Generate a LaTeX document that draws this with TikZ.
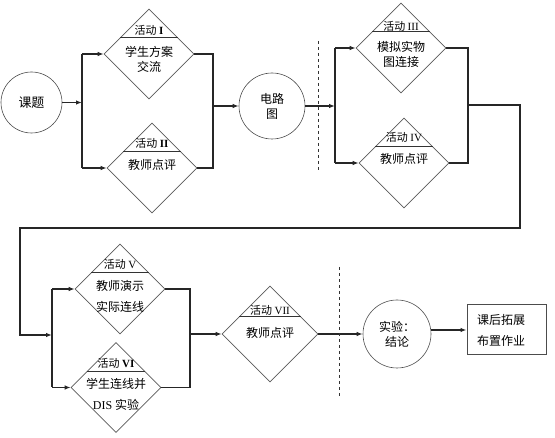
\documentclass[tikz,border=0pt]{standalone}
\usepackage{fontspec}
\setmainfont{Liberation Serif}
\newfontfamily\cjk{Noto Sans CJK SC}
\usepackage{tikz}
\usetikzlibrary{shapes.geometric, arrows.meta, calc}
\newcommand{\romnum}[1]{{\rmfamily #1}}
\tikzstyle{act} = [
    diamond, draw=black!65, line width=0.6pt, minimum width=90pt,
    minimum height=90pt, inner sep=0pt
]
\tikzstyle{ring} = [
    circle, draw=black!70, line width=0.6pt, inner sep=0pt, align=center,
    font=\cjk\fontsize{12}{15}\selectfont
]
\tikzstyle{tag} = [inner sep=0pt, font=\cjk\fontsize{11}{13}\selectfont]
\tikzstyle{body} = [inner sep=0pt, align=center, font=\cjk\fontsize{12}{15}\selectfont]
\tikzstyle{rule} = [black!80, line width=0.8pt]
\tikzstyle{flow} = [line width=1.1pt, black!85]
\tikzstyle{arrow} = [flow, -{Latex[length=6pt, width=4.5pt]}]
\tikzstyle{sep} = [dashed, black!80, line width=0.7pt]

\begin{document}
\begin{tikzpicture}[x=1pt, y=-1pt]
    \useasboundingbox (0,0) rectangle (555,438);

    % Start and stations
    \node[ring, minimum size=61pt, font=\cjk\fontsize{13}{15}\selectfont] (topic) at (31.5,102.5) {课题};
    \node[ring, minimum size=66pt] (circ) at (272,106) {电路\\图};
    \node[ring, minimum size=68pt] (res) at (397,334) {实验：\\结论};
    \node[draw=black!70, line width=1pt, minimum height=50pt, text width=59pt,
          inner xsep=10pt, align=left, font=\cjk\fontsize{12}{21}\selectfont]
          (box) at (506.5,330) {课后拓展\\布置作业};

    % Activities
    \node[act] (a1) at (149,54) {};
    \node[act] (a2) at (152,168) {};
    \node[act] (a3) at (401,48) {};
    \node[act] (a4) at (404,163) {};
    \node[act] (a5) at (120,289) {};
    \node[act] (a6) at (116,387.5) {};
    \node[act, minimum width=96pt, minimum height=96pt] (a7) at (270,334) {};

    % Title rules
    \foreach \d in {a1,a2,a3,a4,a5,a6,a7}
        \draw[rule] ($(\d.north)!0.64!(\d.west)$) -- ($(\d.north)!0.64!(\d.east)$);

    % Activity texts
    \node[tag] (a1tag) at ([yshift=24pt]a1.center) {活动 \textbf{\romnum{I}}};
    \node[body] (a1txt) at ([yshift=-5.5pt]a1.center) {学生方案\\交流};
    \node[tag] (a2tag) at ([yshift=25pt]a2.center) {活动 \textbf{\romnum{II}}};
    \node[body] (a2txt) at ([yshift=3pt]a2.center) {教师点评};
    \node[tag] (a3tag) at ([yshift=22pt]a3.center) {活动 \romnum{III}};
    \node[body] (a3txt) at ([yshift=-6pt]a3.center) {模拟实物\\图连接};
    \node[tag] (a4tag) at ([yshift=26pt]a4.center) {活动 \romnum{IV}};
    \node[body] (a4txt) at ([yshift=4pt]a4.center) {教师点评};
    \node[tag] (a5tag) at ([yshift=25pt]a5.center) {活动 \romnum{V}};
    \node[body] (a5txt) at ([yshift=-7.5pt]a5.center) {教师演示\\[6pt]实际连线};
    \node[tag] (a6tag) at ([yshift=24.5pt]a6.center) {活动 \textbf{\romnum{VI}}};
    \node[body] (a6txt) at ([yshift=-7pt]a6.center) {学生连线并\\[6pt]\romnum{DIS} 实验};
    \node[tag] (a7tag) at ([yshift=24pt]a7.center) {活动 \romnum{VII}};
    \node[body] (a7txt) at ([yshift=1pt]a7.center) {教师点评};

    % Junctions
    \coordinate (j1) at (82,102.5);
    \coordinate (m1) at (213,106);
    \coordinate (j2) at (335,106);
    \coordinate (m2) at (468,105);
    \coordinate (r1) at (520,228);
    \coordinate (r2) at (20,228);
    \coordinate (j3) at (52,335);
    \coordinate (m3) at (190,334);

    % First block
    \draw[arrow] (topic) -- (j1);
    \draw[flow] (j1 |- a1.west) -- (j1 |- a2.west);
    \draw[arrow] (j1 |- a1.west) -- (a1.west);
    \draw[arrow] (j1 |- a2.west) -- (a2.west);
    \draw[flow] (a1.east) -- (a1.east -| m1) -- (a2.east -| m1) -- (a2.east);
    \draw[arrow] (m1) -- (circ);

    % Second block
    \draw[arrow] (circ) -- (j2);
    \draw[flow] (j2 |- a3.west) -- (j2 |- a4.west);
    \draw[arrow] (j2 |- a3.west) -- (a3.west);
    \draw[arrow] (j2 |- a4.west) -- (a4.west);
    \draw[flow] (a3.east) -- (a3.east -| m2) -- (a4.east -| m2) -- (a4.east);
    \draw[arrow] (m2) -| (r1) -- (r2) |- (j3);

    % Third block
    \draw[flow] (j3 |- a5.west) -- (j3 |- a6.west);
    \draw[arrow] (j3 |- a5.west) -- (a5.west);
    \draw[arrow] (j3 |- a6.west) -- (a6.west);
    \draw[flow] (a5.east) -- (a5.east -| m3) -- (a6.east -| m3) -- (a6.east);
    \draw[arrow] (m3) -- (a7.west);
    \draw[arrow] (a7.east) -- (res);
    \draw[arrow] (res.east |- box.west) -- (box.west);

    % Separators
    \draw[sep] (318,41) -- (318,170);
    \draw[sep] (339,267) -- (339,397);

\end{tikzpicture}
\end{document}
